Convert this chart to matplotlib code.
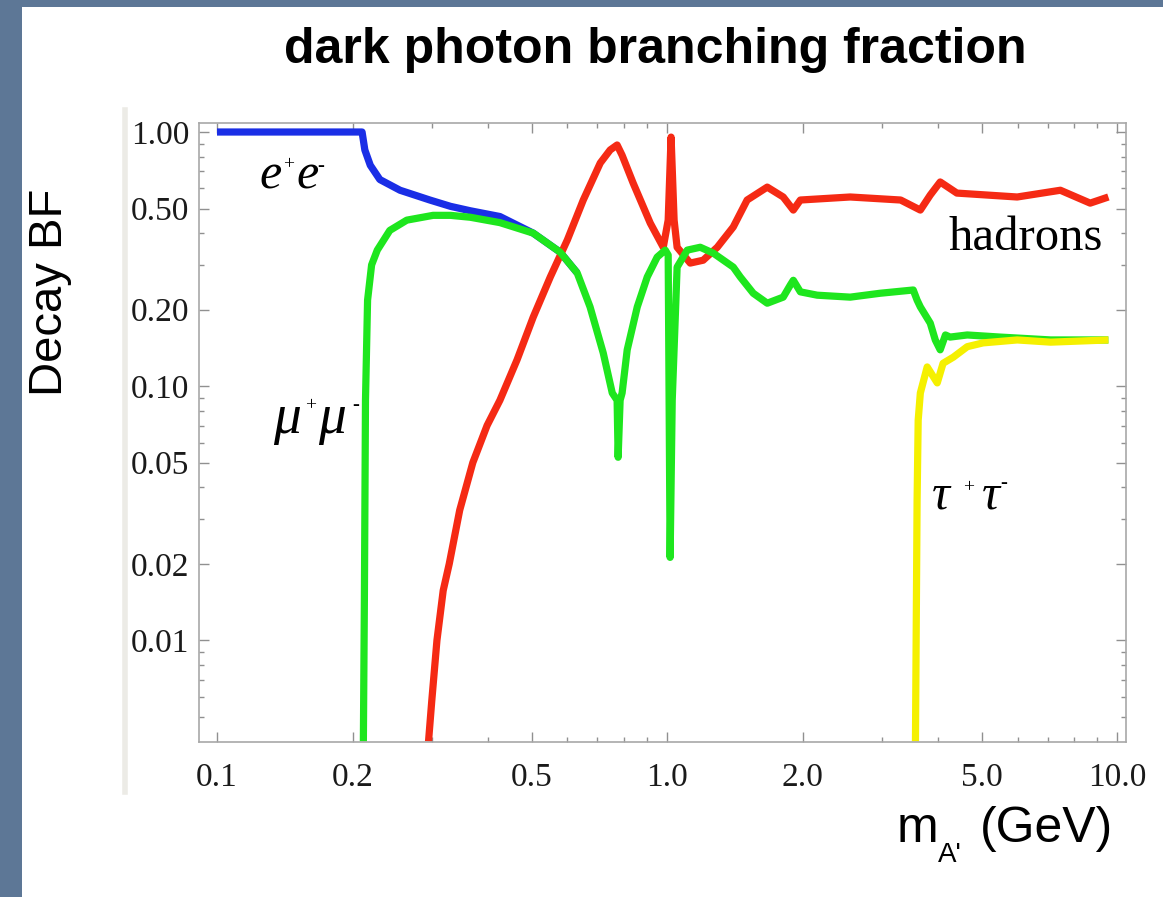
import numpy as np
import matplotlib
matplotlib.use("Agg")
import matplotlib.pyplot as plt
from matplotlib.patches import Rectangle
from matplotlib.ticker import FixedLocator, NullFormatter, FixedFormatter

# e+e- branching fraction (blue), merges into mu+mu- above ~0.5 GeV
ee_mass = [0.1, 0.15, 0.21, 0.213, 0.219, 0.23, 0.255, 0.297, 0.33, 0.365, 0.425, 0.504, 0.578, 0.631]
ee_bf = [1.0, 1.0, 1.0, 0.85, 0.74, 0.65, 0.59, 0.54, 0.51, 0.49, 0.465, 0.40, 0.337, 0.279]

# mu+mu- branching fraction (green)
mm_mass = [0.2114, 0.2125, 0.2137, 0.216, 0.2205, 0.227, 0.242, 0.264, 0.302, 0.33, 0.365,
           0.425, 0.504, 0.578, 0.631, 0.674, 0.721, 0.755, 0.774, 0.778, 0.786, 0.794,
           0.815, 0.858, 0.903, 0.95, 0.99, 1.005, 1.015, 1.026, 1.052, 1.108, 1.184,
           1.265, 1.402, 1.453, 1.553, 1.668, 1.81, 1.877, 1.906, 1.976, 2.154, 2.55,
           2.97, 3.52, 3.59, 3.65, 3.84, 3.94, 4.04, 4.15, 4.25, 4.64, 5.49, 7.11, 9.55]
mm_bf = [0.004, 0.0144, 0.088, 0.218, 0.30, 0.343, 0.41, 0.45, 0.47, 0.47, 0.462,
         0.44, 0.40, 0.337, 0.279, 0.205, 0.135, 0.094, 0.088, 0.0525, 0.088, 0.094,
         0.139, 0.205, 0.269, 0.322, 0.343, 0.328, 0.0212, 0.088, 0.294, 0.343, 0.352,
         0.334, 0.294, 0.269, 0.232, 0.212, 0.224, 0.25, 0.261, 0.235, 0.228, 0.224,
         0.232, 0.239, 0.218, 0.205, 0.177, 0.152, 0.139, 0.159, 0.156, 0.159, 0.156, 0.152, 0.152]

# hadrons branching fraction (red)
had_mass = [0.295, 0.30, 0.308, 0.318, 0.328, 0.346, 0.37, 0.398, 0.425, 0.464, 0.504,
            0.55, 0.60, 0.651, 0.71, 0.747, 0.774, 0.794, 0.84, 0.917, 0.98, 1.005,
            1.02, 1.036, 1.052, 1.125, 1.202, 1.292, 1.402, 1.505, 1.668, 1.81, 1.906,
            1.976, 2.55, 3.30, 3.65, 3.84, 4.04, 4.40, 5.99, 7.47, 8.70, 9.55]
had_bf = [0.004, 0.0058, 0.01, 0.0157, 0.02, 0.0325, 0.05, 0.07, 0.088, 0.127, 0.187,
          0.269, 0.376, 0.54, 0.755, 0.85, 0.889, 0.81, 0.63, 0.438, 0.352, 0.45,
          0.955, 0.45, 0.352, 0.305, 0.313, 0.352, 0.423, 0.54, 0.607, 0.555, 0.493,
          0.54, 0.555, 0.54, 0.493, 0.565, 0.636, 0.575, 0.555, 0.59, 0.525, 0.555]

# tau+tau- branching fraction (yellow)
tt_mass = [3.56, 3.59, 3.61, 3.65, 3.78, 3.98, 4.10, 4.32, 4.64, 5.03, 5.99, 7.11, 9.55]
tt_bf = [0.004, 0.0356, 0.0735, 0.094, 0.119, 0.103, 0.123, 0.130, 0.143, 0.148, 0.152, 0.149, 0.152]

x_ticks = [0.1, 0.2, 0.5, 1.0, 2.0, 5.0, 10.0]
x_labels = ["0.1", "0.2", "0.5", "1.0", "2.0", "5.0", "10.0"]
y_ticks = [0.01, 0.02, 0.05, 0.1, 0.2, 0.5, 1.0]
y_labels = ["0.01", "0.02", "0.05", "0.10", "0.20", "0.50", "1.00"]

W, H = 1163, 897
fig = plt.figure(figsize=(W / 100, H / 100), dpi=100)
fig.patch.set_facecolor("#5d7796")
# white slide panel
fig.patches.append(Rectangle((22 / W, 0), 1.0, 1 - 7 / H, transform=fig.transFigure,
                             facecolor="white", edgecolor="none", zorder=-10))
# faint edge of the pasted plot image
fig.add_artist(plt.Line2D([125 / W, 125 / W], [1 - 792 / H, 1 - 110 / H],
                          transform=fig.transFigure, color="#ecebe6", lw=4, zorder=-5))

ax = fig.add_axes([199 / W, 1 - 742 / H, (1126 - 199) / W, (742 - 123) / H])
ax.set_zorder(2)
ax.set_facecolor("white")
ax.set_xscale("log")
ax.set_yscale("log")
ax.set_xlim(0.0912, 10.45)
ax.set_ylim(0.00398, 1.085)

lw = 5.2
ax.plot(ee_mass, ee_bf, color="#1a2ee6", lw=lw, solid_capstyle="butt")
ax.plot(had_mass, had_bf, color="#f52a14", lw=lw, solid_capstyle="butt")
ax.plot(mm_mass, mm_bf, color="#1ee61e", lw=lw, solid_capstyle="butt")
ax.plot(tt_mass, tt_bf, color="#f5f000", lw=lw, solid_capstyle="butt")

for s in ax.spines.values():
    s.set_color("#a8a8a8")
    s.set_linewidth(1.2)

ax.xaxis.set_major_locator(FixedLocator(x_ticks))
ax.xaxis.set_major_formatter(FixedFormatter(x_labels))
ax.xaxis.set_minor_locator(FixedLocator([0.3, 0.4, 0.6, 0.7, 0.8, 0.9, 3, 4, 6, 7, 8, 9]))
ax.xaxis.set_minor_formatter(NullFormatter())
ax.yaxis.set_major_locator(FixedLocator(y_ticks))
ax.yaxis.set_major_formatter(FixedFormatter(y_labels))
ax.yaxis.set_minor_locator(FixedLocator([0.005, 0.006, 0.007, 0.008, 0.009, 0.03, 0.04, 0.06,
                                         0.07, 0.08, 0.09, 0.3, 0.4, 0.6, 0.7, 0.8, 0.9]))
ax.yaxis.set_minor_formatter(NullFormatter())

ax.tick_params(which="both", direction="in", top=True, right=True, color="#909090", width=1.0)
ax.tick_params(which="major", length=7)
ax.tick_params(which="minor", length=3.5)
ax.tick_params(axis="x", which="major", pad=15)
ax.tick_params(axis="y", which="major", pad=7)
for lab in ax.get_xticklabels() + ax.get_yticklabels():
    lab.set_family("Liberation Serif")
    lab.set_fontsize(24)
    lab.set_color("#1a1a1a")


def particle_label(x, y, base, size, plus_off, second_off, minus_off):
    # italic base letters with small raised charge signs, offsets in points
    kw = dict(xycoords="data", textcoords="offset points", family="Liberation Serif")
    ax.annotate(base, (x, y), xytext=(0, 0), fontsize=size, style="italic",
                ha="left", va="baseline", **kw)
    ax.annotate(base, (x, y), xytext=second_off, fontsize=size, style="italic",
                ha="left", va="baseline", **kw)
    ax.annotate("+", (x, y), xytext=plus_off, fontsize=14, ha="left", va="center", **kw)
    ax.annotate("-", (x, y), xytext=minus_off, fontsize=15, ha="left", va="center", **kw)


particle_label(0.124, 0.602, "e", 36, (17.5, 17), (27, 0), (42, 15.5))
particle_label(0.133, 0.0653, "\u03bc", 40, (23.5, 20), (32.5, 0), (57, 20))
particle_label(3.88, 0.0331, "\u03c4", 36, (22, 15), (36, 0), (49, 18))
ax.text(6.25, 0.383, "hadrons", family="Liberation Serif", fontsize=35,
        ha="center", va="center")

fig.text(655 / W, 1 - 50 / H, "dark photon branching fraction", family="Liberation Sans",
         fontsize=36, fontweight="bold", ha="center", va="center")
fig.text(50 / W, 1 - 292 / H, "Decay BF", family="Liberation Sans", fontsize=34,
         rotation=90, ha="center", va="center")
# x axis label: m with subscript A'
fig.text(897 / W, 1 - 842 / H, "m", family="Liberation Sans", fontsize=36,
         ha="left", va="baseline")
fig.text(938 / W, 1 - 862 / H, "A'", family="Liberation Sans", fontsize=20,
         ha="left", va="baseline")
fig.text(980 / W, 1 - 842 / H, "(GeV)", family="Liberation Sans", fontsize=36,
         ha="left", va="baseline")

fig.savefig("out.png", dpi=100, facecolor=fig.get_facecolor())
